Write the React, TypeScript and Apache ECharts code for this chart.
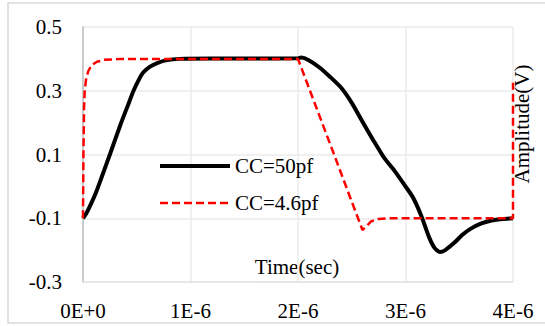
import React, { useEffect, useRef } from "react";
import * as echarts from "echarts";

// Time in microseconds (axis labels show E-6 seconds)
const timeTicksUs = [0, 1, 2, 3, 4];
const voltTicks = [-0.3, -0.1, 0.1, 0.3, 0.5];

const seriesNames = ["CC=50pf", "CC=4.6pf"];

const cc50Time = [
  0, 0.03, 0.07, 0.12, 0.18, 0.25, 0.35, 0.43, 0.47, 0.52, 0.56, 0.62, 0.69, 0.78, 0.9, 1.2, 1.6,
  2.0, 2.03, 2.1, 2.2, 2.3, 2.4, 2.5, 2.6, 2.7, 2.8, 2.9, 3.0, 3.07, 3.15, 3.22, 3.27,
  3.32, 3.37, 3.45, 3.53, 3.6, 3.7, 3.8, 3.9, 4.0,
];
const cc50Volt = [
  -0.1, -0.085, -0.058, -0.02, 0.035, 0.1, 0.195, 0.265, 0.3, 0.335, 0.357, 0.375, 0.387, 0.396, 0.4, 0.401, 0.401,
  0.402, 0.404, 0.396, 0.373, 0.343, 0.31, 0.262, 0.203, 0.145, 0.09, 0.048, 0.0, -0.035, -0.095, -0.16, -0.193,
  -0.206, -0.2, -0.178, -0.152, -0.134, -0.117, -0.107, -0.102, -0.1,
];

const cc46Time = [
  0, 0.004, 0.01, 0.016, 0.03, 0.05, 0.08, 0.13, 0.2, 0.35, 2.0, 2.2, 2.33, 2.48, 2.6,
  2.63, 2.68, 2.75, 2.85, 4.0, 4.0,
];
const cc46Volt = [
  -0.1, 0.1, 0.25, 0.3, 0.34, 0.362, 0.38, 0.391, 0.397, 0.4, 0.4, 0.221, 0.105, -0.03, -0.137,
  -0.127, -0.11, -0.102, -0.1, -0.1, 0.325,
];

const xAxisTitle = "Time(sec)";
const yAxisTitle = "Amplitude(V)";

const FONT = "Times New Roman, Liberation Serif, DejaVu Serif, serif";

export default function App() {
  const ref = useRef<HTMLDivElement>(null);

  useEffect(() => {
    if (!ref.current) return;
    const chart = echarts.init(ref.current, undefined, { renderer: "svg" });
    const pairs = (t: number[], v: number[]) => t.map((x, i) => [x, v[i]]);
    const gridColor = "#ebebeb";

    chart.setOption({
      animation: false,
      backgroundColor: "#ffffff",
      textStyle: { fontFamily: FONT },
      grid: { left: 83, right: 32, top: 27, bottom: 44, containLabel: false },
      legend: {
        orient: "vertical",
        left: 153,
        top: 149,
        itemWidth: 70,
        itemHeight: 14,
        itemGap: 13,
        data: seriesNames,
        itemStyle: { opacity: 0, color: "transparent", borderWidth: 0 },
        lineStyle: { width: "inherit" },
        textStyle: { fontSize: 21, fontFamily: FONT, color: "#000", lineHeight: 24 },
      },
      xAxis: {
        type: "value",
        min: timeTicksUs[0],
        max: timeTicksUs[timeTicksUs.length - 1],
        interval: 1,
        axisLine: { show: true, onZero: false, lineStyle: { color: "#e3e3e3", width: 1.5 } },
        axisTick: { show: false },
        splitLine: { show: true, lineStyle: { color: gridColor, width: 1.5 } },
        axisLabel: {
          fontSize: 21,
          fontFamily: FONT,
          color: "#000",
          margin: 18,
          formatter: (v: number) => (v === 0 ? "0E+0" : `${Math.round(v)}E-6`),
        },
      },
      yAxis: {
        type: "value",
        min: voltTicks[0],
        max: voltTicks[voltTicks.length - 1],
        interval: 0.2,
        axisLine: { show: true, onZero: false, lineStyle: { color: "#bfbfbf", width: 1.5 } },
        axisTick: { show: false },
        splitLine: { show: true, lineStyle: { color: gridColor, width: 1.5 } },
        axisLabel: {
          fontSize: 21,
          fontFamily: FONT,
          color: "#000",
          margin: 21,
          formatter: (v: number) => v.toFixed(1),
        },
      },
      graphic: [
        {
          type: "rect",
          z: -10,
          silent: true,
          shape: { x: 8, y: 3, width: 560, height: 320 },
          style: { fill: "none", stroke: "#d9d9d9", lineWidth: 1.5 },
        },
        {
          type: "text",
          x: 297,
          y: 267,
          style: {
            text: xAxisTitle,
            fontSize: 21,
            fontFamily: FONT,
            fill: "#000",
            align: "center",
            verticalAlign: "middle",
          },
        },
        {
          type: "text",
          x: 522,
          y: 124,
          rotation: Math.PI / 2,
          style: {
            text: yAxisTitle,
            fontSize: 21,
            fontFamily: FONT,
            fill: "#000",
            align: "center",
            verticalAlign: "middle",
          },
        },
      ],
      series: [
        {
          name: seriesNames[0],
          type: "line",
          data: pairs(cc50Time, cc50Volt),
          symbol: "none",
          showSymbol: false,
          smooth: 0.2,
          lineStyle: { color: "#000000", width: 4 },
          itemStyle: { color: "#000000" },
          z: 2,
        },
        {
          name: seriesNames[1],
          type: "line",
          data: pairs(cc46Time, cc46Volt),
          symbol: "none",
          showSymbol: false,
          smooth: false,
          lineStyle: { color: "#ff0000", width: 2.5, type: [8, 4] },
          itemStyle: { color: "#ff0000" },
          z: 3,
        },
      ],
    });
    return () => chart.dispose();
  }, []);

  return (
    <div
      ref={ref}
      style={{ position: "absolute", left: 0, top: 0, width: 545, height: 326 }}
    />
  );
}
